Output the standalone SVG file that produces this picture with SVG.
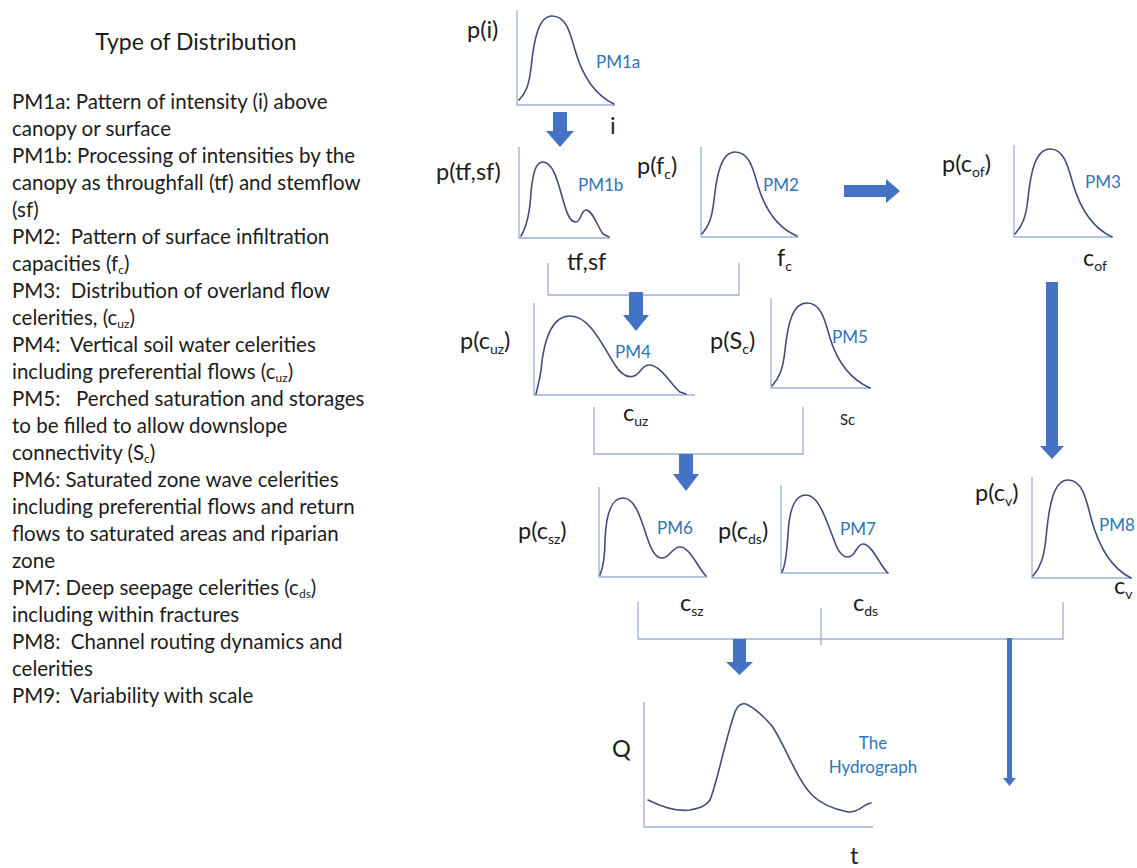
<svg xmlns="http://www.w3.org/2000/svg" width="1137" height="868" viewBox="0 0 1137 868">
<style>
.bg{fill:#ffffff}
.leg{font-family:Lato,"Liberation Sans",sans-serif;font-size:20.5px;fill:#1c1c1c;white-space:pre}
.title{font-family:Lato,"Liberation Sans",sans-serif;font-size:23px;fill:#1c1c1c}
.ax{stroke:#9db0d8;stroke-width:1.3;fill:none}
.cv{stroke:#3f4c7c;stroke-width:1.6;fill:none;stroke-linejoin:round;stroke-linecap:round}
.lab{font-family:Lato,"Liberation Sans",sans-serif;font-size:23.5px;fill:#1c1c1c}
.pm{font-family:Lato,"Liberation Sans",sans-serif;font-size:17px;fill:#2e75b6}
.sub{font-size:14px}
.lsub{font-size:12px}
.br{stroke:#9db0d8;stroke-width:1.3;fill:none}
.arr{fill:#4472c4}
</style>
<rect class="bg" x="0" y="0" width="1137" height="868"/>

<g id="legend">
<text class="title" x="196" y="50" text-anchor="middle">Type of Distribution</text>
<text class="leg" x="12" y="109">PM1a: Pattern of intensity (i) above</text>
<text class="leg" x="12" y="136">canopy or surface</text>
<text class="leg" x="12" y="163">PM1b: Processing of intensities by the</text>
<text class="leg" x="12" y="190">canopy as throughfall (tf) and stemflow</text>
<text class="leg" x="12" y="217">(sf)</text>
<text class="leg" x="12" y="244">PM2:  Pattern of surface infiltration</text>
<text class="leg" x="12" y="271">capacities (f<tspan class="lsub" dy="3">c</tspan><tspan dy="-3">)</tspan></text>
<text class="leg" x="12" y="298">PM3:  Distribution of overland flow</text>
<text class="leg" x="12" y="325">celerities, (c<tspan class="lsub" dy="3">uz</tspan><tspan dy="-3">)</tspan></text>
<text class="leg" x="12" y="352">PM4:  Vertical soil water celerities</text>
<text class="leg" x="12" y="379">including preferential flows (c<tspan class="lsub" dy="3">uz</tspan><tspan dy="-3">)</tspan></text>
<text class="leg" x="12" y="406">PM5:   Perched saturation and storages</text>
<text class="leg" x="12" y="433">to be filled to allow downslope</text>
<text class="leg" x="12" y="460">connectivity (S<tspan class="lsub" dy="3">c</tspan><tspan dy="-3">)</tspan></text>
<text class="leg" x="12" y="487">PM6: Saturated zone wave celerities</text>
<text class="leg" x="12" y="514">including preferential flows and return</text>
<text class="leg" x="12" y="541">flows to saturated areas and riparian</text>
<text class="leg" x="12" y="568">zone</text>
<text class="leg" x="12" y="595">PM7: Deep seepage celerities (c<tspan class="lsub" dy="3">ds</tspan><tspan dy="-3">)</tspan></text>
<text class="leg" x="12" y="622">including within fractures</text>
<text class="leg" x="12" y="649">PM8:  Channel routing dynamics and</text>
<text class="leg" x="12" y="676">celerities</text>
<text class="leg" x="12" y="703">PM9:  Variability with scale</text>
</g>

<g id="pm1a">
<path class="ax" d="M517,10 V105 H615"/>
<path class="cv" d="M519,100 C526,93 529,85 531,68 C534,38 539,16 552,16 C566,16 570,32 575,50 C583,78 597,96 614,104"/>
<text class="lab" x="467" y="38">p(i)</text>
<text class="pm" x="596" y="68">PM1a</text>
<text class="lab" x="610" y="134">i</text>
</g>

<g id="pm1b">
<path class="ax" d="M519,147 V238 H610"/>
<path class="cv" d="M521,236 C527,226 530,212 531,192 C533,172 536,162 543,162 C553,162 558,182 563,200 C567,214 570,222 576,222 C581,222 581,210 586,210 C593,210 598,228 603,234 L609,237"/>
<text class="lab" x="436" y="180">p(tf,sf)</text>
<text class="pm" x="578" y="191">PM1b</text>
<text class="lab" x="567" y="270">tf,sf</text>
</g>

<g id="pm2">
<path class="ax" d="M701,147 V237 H798"/>
<path class="cv" d="M702,234 C709,226 712,218 714,200 C717,172 722,152 735,152 C749,152 753,168 758,186 C766,212 780,229 797,236"/>
<text class="lab" x="637" y="174">p(f<tspan class="sub" dy="5">c</tspan><tspan dy="-5">)</tspan></text>
<text class="pm" x="763" y="191">PM2</text>
<text class="lab" x="777" y="266">f<tspan class="sub" dy="5">c</tspan></text>
</g>

<g id="pm3">
<path class="ax" d="M1014,145 V237 H1113"/>
<path class="cv" d="M1015,234 C1022,226 1026,218 1028,198 C1031,170 1036,149 1050,149 C1064,149 1068,166 1073,184 C1081,211 1095,229 1112,237"/>
<text class="lab" x="942" y="172">p(c<tspan class="sub" dy="5">of</tspan><tspan dy="-5">)</tspan></text>
<text class="pm" x="1085" y="188">PM3</text>
<text class="lab" x="1083" y="266">c<tspan class="sub" dy="5">of</tspan></text>
</g>

<g id="pm4">
<path class="ax" d="M534,303 V395 H695"/>
<path class="cv" d="M536,394 C538,386 540,378 541,370 C544,338 553,316 570,316 C590,316 602,345 615,365 C622,376 628,378 634,376 C640,374 642,365 649,365 C661,365 672,386 680,392 L686,394"/>
<text class="lab" x="460" y="349">p(c<tspan class="sub" dy="5">uz</tspan><tspan dy="-5">)</tspan></text>
<text class="pm" x="615" y="358">PM4</text>
<text class="lab" x="623" y="421">c<tspan class="sub" dy="5">uz</tspan></text>
</g>

<g id="pm5">
<path class="ax" d="M771,298 V388 H871"/>
<path class="cv" d="M772,386 C779,378 783,370 785,350 C788,322 793,303 807,303 C821,303 825,320 830,338 C838,364 852,380 870,388"/>
<text class="lab" x="710" y="349">p(S<tspan class="sub" dy="5">c</tspan><tspan dy="-5">)</tspan></text>
<text class="pm" x="832" y="343">PM5</text>
<text class="pm" x="840" y="425" style="fill:#1c1c1c;font-size:15px">Sc</text>
</g>

<g id="pm6">
<path class="ax" d="M599,487 V577 H707"/>
<path class="cv" d="M600,575 C604,565 605,555 605,540 C606,515 611,498 623,498 C636,498 641,520 648,540 C652,552 656,558 662,558 C670,558 672,547 680,547 C690,547 698,568 706,576"/>
<text class="lab" x="518" y="539">p(c<tspan class="sub" dy="5">sz</tspan><tspan dy="-5">)</tspan></text>
<text class="pm" x="657" y="534">PM6</text>
<text class="lab" x="680" y="611">c<tspan class="sub" dy="5">sz</tspan></text>
</g>

<g id="pm7">
<path class="ax" d="M781,485 V573 H888"/>
<path class="cv" d="M782,572 C786,565 787,550 788,535 C789,512 794,495 806,495 C819,495 826,520 834,540 C838,552 842,557 848,557 C856,557 856,544 863,544 C872,544 880,566 888,573"/>
<text class="lab" x="718" y="539">p(c<tspan class="sub" dy="5">ds</tspan><tspan dy="-5">)</tspan></text>
<text class="pm" x="840" y="535">PM7</text>
<text class="lab" x="853" y="611">c<tspan class="sub" dy="5">ds</tspan></text>
</g>

<g id="pm8">
<path class="ax" d="M1032,477 V578 H1132"/>
<path class="cv" d="M1033,576 C1040,568 1044,558 1046,538 C1049,504 1054,480 1068,480 C1082,480 1086,498 1091,518 C1099,548 1113,569 1131,578"/>
<text class="lab" x="975" y="501">p(c<tspan class="sub" dy="5">v</tspan><tspan dy="-5">)</tspan></text>
<text class="pm" x="1099" y="531">PM8</text>
<text class="lab" x="1114" y="594">c<tspan class="sub" dy="5">v</tspan></text>
</g>

<g id="hydrograph">
<path class="ax" d="M644,702 V827 H873"/>
<path class="cv" d="M648,800 C660,806 675,812 690,810 C700,808 706,806 710,800 C718,780 725,740 735,712 C738,704 742,703 746,704 C755,708 765,718 772,726 C785,745 797,780 812,795 C822,805 838,810 848,812 C858,813 862,805 871,803"/>
<text class="lab" x="612" y="757">Q</text>
<text class="pm" x="873" y="749" text-anchor="middle">The</text>
<text class="pm" x="873" y="773" text-anchor="middle">Hydrograph</text>
<text class="lab" x="850" y="864">t</text>
</g>

<g id="connectors">
<path class="br" d="M548,263 V295 H739 V263"/>
<path class="br" d="M594,407 V454 H803 V407"/>
<path class="br" d="M638,602 V639 H1063 V602"/>
<path class="br" d="M821,608 V645"/>
<polygon class="arr" points="553,112 567,112 567,131 574,131 560,147 546,131 553,131"/>
<polygon class="arr" points="629,292 643,292 643,315 649,315 636,331 623,315 629,315"/>
<polygon class="arr" points="679,454 693,454 693,474 699,474 686,491 673,474 679,474"/>
<polygon class="arr" points="733,639 746,639 746,662 753,662 739.5,675 726,662 733,662"/>
<polygon class="arr" points="844,185 886,185 886,179 900,191 886,203 886,197 844,197"/>
<polygon class="arr" points="1046,282 1058,282 1058,446 1064,446 1052,459 1040,446 1046,446"/>
<polygon class="arr" points="1007,638 1012,638 1012,778 1016,778 1009.5,786 1003,778 1007,778"/>
</g>
</svg>
